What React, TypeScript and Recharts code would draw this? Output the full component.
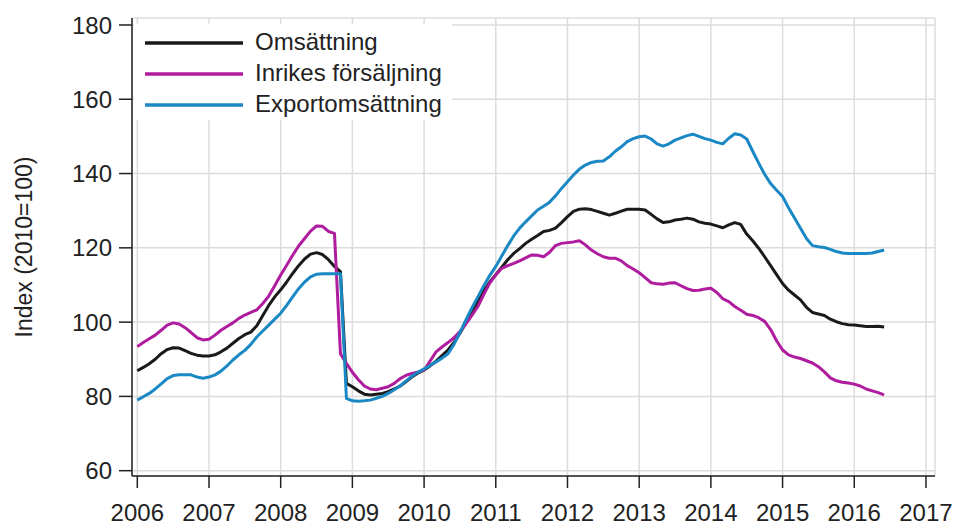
import React from 'react';
import { LineChart, Line, XAxis, YAxis, CartesianGrid } from 'recharts';

const FONT = '"Liberation Sans", Arial, Helvetica, sans-serif';

const START_YEAR = 2006;
const MONTH_COUNT = 126; // 2006M01 .. 2016M06
const monthLabels: string[] = [];
for (let i = 0; i < MONTH_COUNT; i++) {
  const y = START_YEAR + Math.floor(i / 12);
  const m = (i % 12) + 1;
  monthLabels.push(`${y}M${m < 10 ? '0' + m : m}`);
}

const xTicks = [2006, 2007, 2008, 2009, 2010, 2011, 2012, 2013, 2014, 2015, 2016, 2017];
const yTicks = [60, 80, 100, 120, 140, 160, 180];

const seriesKeys = ['oms', 'inr', 'exp'];
const seriesNames = ['Omsättning', 'Inrikes försäljning', 'Exportomsättning'];
const seriesColors = ['#1a1a1a', '#b01c9e', '#1a88c4'];

const omsattning = [
  // 2006
  86.9, 87.8, 88.8, 90.0, 91.5, 92.6, 93.1, 93.0, 92.3, 91.6, 91.1, 90.9,
  // 2007
  90.9, 91.2, 92.0, 93.0, 94.3, 95.6, 96.6, 97.3, 99.0, 101.8, 104.5, 106.8,
  // 2008
  108.7, 110.8, 113.1, 115.2, 117.0, 118.3, 118.7, 118.2, 116.8, 115.0, 113.6, 83.5,
  // 2009
  82.6, 81.5, 80.6, 80.4, 80.6, 80.8, 81.3, 82.0, 82.8, 84.0, 85.3, 86.3,
  // 2010
  87.1, 88.2, 89.5, 91.0, 92.5, 94.5, 97.0, 99.8, 102.7, 105.6, 108.4, 110.8,
  // 2011
  112.8, 114.8, 116.8, 118.5, 119.8, 121.2, 122.3, 123.3, 124.4, 124.7, 125.3, 126.8,
  // 2012
  128.4, 129.8, 130.4, 130.5, 130.3, 129.8, 129.3, 128.8, 129.3, 129.9, 130.4, 130.4,
  // 2013
  130.4, 130.2, 129.0, 127.8, 126.8, 127.0, 127.5, 127.7, 128.0, 127.7, 127.0, 126.6,
  // 2014
  126.4, 125.9, 125.4, 126.2, 126.8, 126.3, 123.7, 121.9, 119.9, 117.6, 115.2, 112.8,
  // 2015
  110.4, 108.6, 107.3, 106.0, 104.0, 102.6, 102.2, 101.8, 100.8, 100.1, 99.6, 99.3,
  // 2016
  99.2, 99.0, 98.8, 98.8, 98.9, 98.7,
];

const inrikes = [
  // 2006
  93.4, 94.5, 95.5, 96.5, 97.8, 99.2, 99.8, 99.5, 98.5, 97.2, 95.8, 95.2,
  // 2007
  95.4, 96.5, 97.8, 98.8, 99.8, 101.0, 101.9, 102.6, 103.3, 105.0, 107.0, 109.8,
  // 2008
  112.7, 115.3, 118.0, 120.5, 122.5, 124.5, 125.9, 125.8, 124.4, 123.9, 91.5, 88.9,
  // 2009
  86.5, 84.5, 82.8, 82.0, 81.8, 82.2, 82.6, 83.5, 84.8, 85.7, 86.2, 86.6,
  // 2010
  87.1, 89.5, 92.0, 93.3, 94.5, 95.8, 97.5, 99.5, 101.8, 104.2, 107.5, 110.5,
  // 2011
  112.7, 114.5, 115.2, 115.8, 116.5, 117.3, 118.1, 118.0, 117.6, 118.8, 120.6, 121.2,
  // 2012
  121.4, 121.6, 121.9, 120.8, 119.4, 118.4, 117.6, 117.2, 117.2, 116.5, 115.2, 114.3,
  // 2013
  113.3, 112.0, 110.6, 110.3, 110.2, 110.5, 110.6, 109.8, 109.0, 108.5, 108.6, 108.9,
  // 2014
  109.1, 108.0, 106.3, 105.5, 104.2, 103.2, 102.1, 101.8, 101.2, 100.2, 98.0, 95.0,
  // 2015
  92.5, 91.2, 90.6, 90.2, 89.6, 89.0, 88.0, 86.6, 85.0, 84.2, 83.8, 83.6,
  // 2016
  83.3, 82.8, 82.0, 81.5, 81.0, 80.4,
];

const exportomsattning = [
  // 2006
  79.0, 79.9, 80.8, 82.0, 83.4, 84.8, 85.6, 85.8, 85.8, 85.8, 85.2, 84.9,
  // 2007
  85.2, 85.8, 86.8, 88.2, 89.8, 91.2, 92.4, 94.0, 96.0, 97.6, 99.2, 100.8,
  // 2008
  102.4, 104.5, 106.8, 109.0, 110.8, 112.2, 112.9, 113.0, 113.0, 113.0, 113.0, 79.5,
  // 2009
  78.8, 78.7, 78.8, 79.0, 79.5, 80.0, 80.8, 81.8, 82.8, 84.2, 85.5, 86.5,
  // 2010
  87.4, 88.3, 89.3, 90.3, 91.5, 94.0, 97.2, 100.6, 103.8, 106.8, 109.8, 112.6,
  // 2011
  115.0, 117.8, 120.6, 123.2, 125.3, 127.0, 128.6, 130.2, 131.2, 132.3, 134.0, 136.0,
  // 2012
  137.8, 139.6, 141.2, 142.3, 143.0, 143.3, 143.4, 144.5, 146.0, 147.2, 148.6, 149.4,
  // 2013
  149.9, 150.1, 149.3, 148.0, 147.4, 148.0, 149.0, 149.6, 150.2, 150.6, 150.0, 149.4,
  // 2014
  149.0, 148.4, 148.0, 149.5, 150.7, 150.4, 149.3, 146.0, 142.8, 139.8, 137.3, 135.5,
  // 2015
  133.8, 130.8, 128.0, 125.3, 122.5, 120.6, 120.3, 120.1, 119.6, 119.0, 118.6, 118.5,
  // 2016
  118.5, 118.5, 118.5, 118.6, 119.0, 119.4,
];

const labelToTime = (label: string) => {
  const y = parseInt(label.slice(0, 4), 10);
  const m = parseInt(label.slice(5), 10);
  return y + (m - 1) / 12;
};

const data = monthLabels.map((lab, i) => ({
  label: lab,
  t: labelToTime(lab),
  oms: omsattning[i],
  inr: inrikes[i],
  exp: exportomsattning[i],
}));

const LegendBox = () => (
  <div
    style={{
      position: 'absolute',
      top: 24,
      left: 134,
      width: 318,
      height: 96,
      paddingTop: 2,
      boxSizing: 'border-box',
      background: '#fff',
      fontFamily: FONT,
    }}
  >
    {seriesNames.map((name, i) => (
      <div key={name} style={{ display: 'flex', alignItems: 'center', height: 31 }}>
        <svg width={109} height={10} style={{ display: 'block', marginTop: 3 }}>
          <line x1={11} x2={109} y1={5} y2={5} stroke={seriesColors[i]} strokeWidth={3.5} />
        </svg>
        <span style={{ marginLeft: 12, fontSize: 24, color: '#222', lineHeight: '31px', whiteSpace: 'nowrap' }}>
          {name}
        </span>
      </div>
    ))}
  </div>
);

const YLabel = (props: any) => {
  const vb = props.viewBox || { x: 0, y: 0, width: 0, height: 0 };
  const cx = vb.x + 24;
  const cy = vb.y + vb.height / 2;
  return (
    <text
      x={cx}
      y={cy}
      transform={`rotate(-90 ${cx} ${cy})`}
      textAnchor="middle"
      dominantBaseline="central"
      fontSize={23}
      fontFamily={FONT}
      fill="#222"
    >
      Index (2010=100)
    </text>
  );
};

export default function App() {
  return (
    <div style={{ position: 'absolute', left: 0, top: 0, width: 955, height: 530, background: '#fff' }}>
      <LineChart width={955} height={530} data={data} margin={{ top: 18, right: 20, bottom: 0, left: 0 }}>
        <CartesianGrid stroke="#dcdcdc" strokeWidth={1.5} />
        <XAxis
          type="number"
          dataKey="t"
          domain={[2005.926, 2017.126]}
          allowDataOverflow
          ticks={xTicks}
          interval={0}
          tickFormatter={(v: number) => String(Math.round(v))}
          height={54}
          tickSize={12}
          tickMargin={16}
          axisLine={{ stroke: '#222', strokeWidth: 1.5 }}
          tickLine={{ stroke: '#222', strokeWidth: 1.5 }}
          tick={{ fill: '#222', fontSize: 24, fontFamily: FONT }}
        />
        <YAxis
          type="number"
          domain={[58.57, 181.88]}
          allowDataOverflow
          ticks={yTicks}
          interval={0}
          width={132}
          tickSize={13}
          tickMargin={7}
          axisLine={{ stroke: '#222', strokeWidth: 1.5 }}
          tickLine={{ stroke: '#222', strokeWidth: 1.5 }}
          tick={{ fill: '#222', fontSize: 24, fontFamily: FONT }}
          label={<YLabel />}
        />
        {seriesKeys.map((k, i) => (
          <Line
            key={k}
            type="linear"
            dataKey={k}
            name={seriesNames[i]}
            stroke={seriesColors[i]}
            strokeWidth={3}
            dot={false}
            isAnimationActive={false}
            strokeLinejoin="round"
          />
        ))}
      </LineChart>
      <LegendBox />
    </div>
  );
}
